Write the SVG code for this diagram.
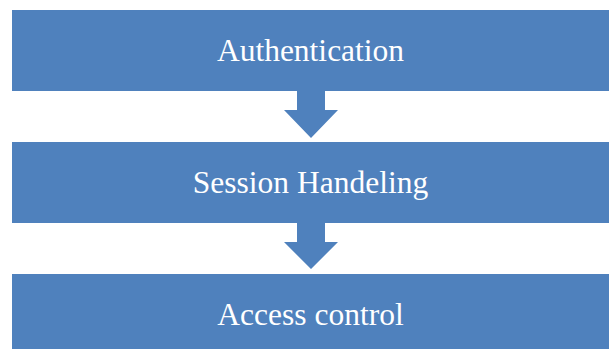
<svg xmlns="http://www.w3.org/2000/svg" width="609" height="349" viewBox="0 0 609 349">
  <style>
    .box { fill: #4F81BD; }
    .arrow { fill: #4F81BD; }
    .label { fill: #FFFFFF; font-family: "Liberation Serif", "Times New Roman", "DejaVu Serif", serif; font-size: 31.5px; text-anchor: middle; }
  </style>
  <rect width="609" height="349" fill="#FFFFFF"/>
  <g id="authentication">
    <rect class="box" x="12" y="10" width="597" height="81"/>
    <text class="label" x="310.5" y="61">Authentication</text>
  </g>
  <g id="session-handeling">
    <rect class="box" x="12" y="142" width="597" height="81"/>
    <text class="label" x="310.5" y="193">Session Handeling</text>
  </g>
  <g id="access-control">
    <rect class="box" x="12" y="274" width="597" height="75"/>
    <text class="label" x="310.5" y="325">Access control</text>
  </g>
  <g id="connectors">
    <path class="arrow" d="M297 91 H325 V110 H338 L311 138 L284 110 H297 Z"/>
    <path class="arrow" d="M297 223 H325 V242 H338 L311 269 L284 242 H297 Z"/>
  </g>
</svg>
